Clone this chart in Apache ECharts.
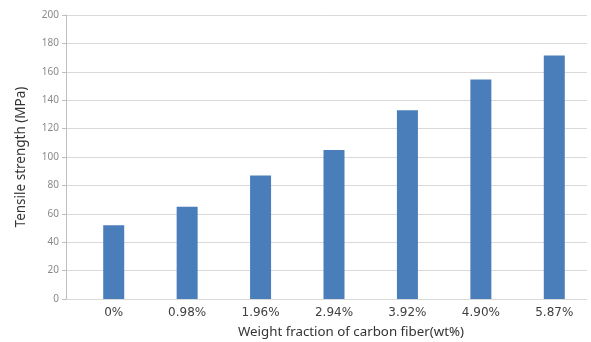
<!DOCTYPE html>
<html>
<head>
<meta charset="utf-8">
<script src="https://cdn.jsdelivr.net/npm/echarts@6/dist/echarts.min.js"></script>
<style>html,body{margin:0;padding:0;background:#fff;}#c{width:591px;height:342px;}</style>
</head>
<body>
<div id="c"></div>
<script>
const categories = ['0%', '0.98%', '1.96%', '2.94%', '3.92%', '4.90%', '5.87%'];
const tensileStrength = [52, 65, 87, 105, 133, 154.5, 171.5];
const yTicks = { min: 0, max: 200, interval: 20 };
const xTitle = 'Weight fraction of carbon fiber(wt%)';
const yTitle = 'Tensile strength (MPa)';

const chart = echarts.init(document.getElementById('c'), null, { renderer: 'canvas' });
chart.setOption({
  animation: false,
  backgroundColor: '#ffffff',
  title: {
    text: xTitle,
    left: 346, top: 321, textAlign: 'center',
    textStyle: { fontFamily: 'Noto Sans', fontSize: 13.3, fontWeight: 'normal', color: '#333' }
  },
  grid: [
    { left: 66, right: 4, top: 15, bottom: 43 },
    { left: 77, right: -6, top: 15, bottom: 43 }
  ],
  xAxis: [
    { gridIndex: 0, type: 'category', data: categories, show: false },
    {
      gridIndex: 1, type: 'category', data: categories,
      axisLine: { show: false }, axisTick: { show: false },
      axisLabel: { margin: 8, fontFamily: 'DejaVu Sans', fontSize: 12, color: '#404040' }
    }
  ],
  yAxis: [
    {
      gridIndex: 0, type: 'value', min: yTicks.min, max: yTicks.max, interval: yTicks.interval,
      name: yTitle, nameLocation: 'middle', nameGap: 38,
      nameTextStyle: { fontFamily: 'Noto Sans', fontSize: 13.5, color: '#333' },
      axisLine: { show: true, lineStyle: { color: '#bfbfbf' } },
      axisTick: { show: true, length: 4, lineStyle: { color: '#bfbfbf' } },
      axisLabel: { margin: 7, fontFamily: 'Noto Sans', fontSize: 10, color: '#8a8a8a' },
      splitLine: { show: true, lineStyle: { color: '#d9d9d9', width: 1 } }
    },
    { gridIndex: 1, type: 'value', min: yTicks.min, max: yTicks.max, interval: yTicks.interval, show: false, splitLine: { show: false } }
  ],
  series: [{
    type: 'bar', xAxisIndex: 1, yAxisIndex: 1,
    data: tensileStrength, barWidth: 21,
    itemStyle: { color: '#4a7ebb' }
  }]
});
</script>
</body>
</html>
